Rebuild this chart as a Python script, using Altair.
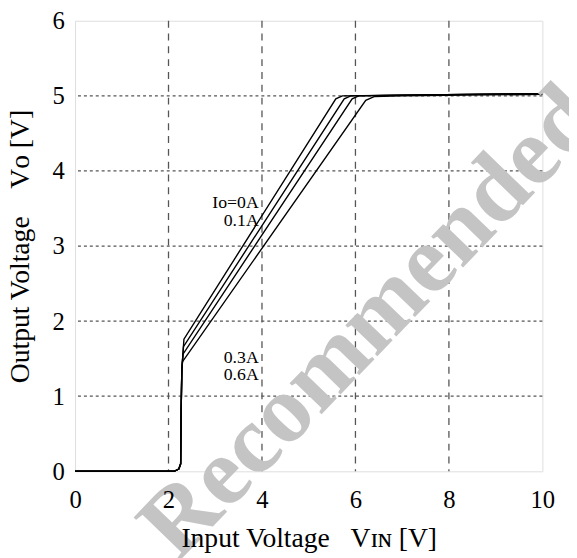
import altair as alt
import pandas as pd

# ---- data ----
curve_names = ["0A", "0.1A", "0.3A", "0.6A"]
x_0A = [0, 2.12, 2.22, 2.26, 2.27, 2.285, 2.33, 5.58, 5.72, 7.0, 10.0]
y_0A = [0, 0.0, 0.03, 0.10, 0.80, 1.35, 1.76, 4.96, 5.00, 5.01, 5.03]
x_01A = [0, 2.12, 2.22, 2.26, 2.27, 2.285, 2.32, 5.76, 5.90, 7.0, 10.0]
y_01A = [0, 0.0, 0.03, 0.10, 0.80, 1.35, 1.66, 4.96, 5.00, 5.01, 5.03]
x_03A = [0, 2.12, 2.22, 2.26, 2.27, 2.285, 2.31, 5.93, 6.07, 7.0, 10.0]
y_03A = [0, 0.0, 0.03, 0.10, 0.80, 1.35, 1.56, 4.96, 5.00, 5.01, 5.03]
x_06A = [0, 2.12, 2.22, 2.26, 2.27, 2.285, 2.30, 6.22, 6.40, 7.0, 10.0]
y_06A = [0, 0.0, 0.03, 0.10, 0.80, 1.35, 1.46, 4.94, 4.99, 5.00, 5.02]

label_texts = ["I\u1d0f=0A", "0.1A", "0.3A", "0.6A"]
label_x = [3.93, 3.93, 3.93, 3.93]
label_y = [3.57, 3.33, 1.51, 1.28]

x_ticks = [0, 2, 4, 6, 8, 10]
y_ticks = [0, 1, 2, 3, 4, 5, 6]
x_grid = [2, 4, 6, 8]
y_grid = [1, 2, 3, 4, 5]

watermark = "Recommended"
wm_x = [6.31]
wm_y = [1.98]

FONT = "Liberation Serif"

rows = []
for name, xs, ys in zip(curve_names, [x_0A, x_01A, x_03A, x_06A], [y_0A, y_01A, y_03A, y_06A]):
    for i, (a, b) in enumerate(zip(xs, ys)):
        rows.append({"curve": name, "order": i, "vin": a, "vo": b})
curves = pd.DataFrame(rows)
labels = pd.DataFrame({"t": label_texts, "x": label_x, "y": label_y})
xg = pd.DataFrame({"x": x_grid})
yg = pd.DataFrame({"y": y_grid})
wm = pd.DataFrame({"t": [watermark], "x": wm_x, "y": wm_y})

xscale = alt.Scale(domain=[0, 10], nice=False)
yscale = alt.Scale(domain=[0, 6], nice=False)
NB = "\u00a0"
xaxis = alt.Axis(values=x_ticks, format="d", title="Input Voltage" + NB * 3 + "V\u026a\u0274 [V]",
                 grid=False, domain=False, ticks=False, labelFont=FONT, labelFontSize=25,
                 labelColor="black", labelPadding=17, titleFont=FONT, titleFontSize=28,
                 titleFontWeight="normal", titleColor="black", titlePadding=12, labelFlush=False,
                 zindex=1)
yaxis = alt.Axis(values=y_ticks, format="d", title="Output Voltage" + NB * 4 + "V\u1d0f [V]",
                 grid=False, domain=False, ticks=False, labelFont=FONT, labelFontSize=25,
                 labelColor="black", labelPadding=11, titleFont=FONT, titleFontSize=28,
                 titleFontWeight="normal", titleColor="black", titlePadding=18, labelFlush=False,
                 zindex=1)

vgrid = alt.Chart(xg).mark_rule(color="#555555", strokeWidth=1.3, strokeDash=[7, 6]).encode(
    x=alt.X("x:Q", scale=xscale, axis=xaxis))
hgrid = alt.Chart(yg).mark_rule(color="#555555", strokeWidth=1.3, strokeDash=[3, 3]).encode(
    y=alt.Y("y:Q", scale=yscale, axis=yaxis))

lines = alt.Chart(curves).mark_line(color="black", strokeWidth=1.4).encode(
    x=alt.X("vin:Q", scale=xscale),
    y=alt.Y("vo:Q", scale=yscale),
    detail="curve:N",
    order="order:Q",
)

text = alt.Chart(labels).mark_text(font=FONT, fontSize=18, align="right", baseline="middle",
                                   color="black").encode(
    x=alt.X("x:Q", scale=xscale), y=alt.Y("y:Q", scale=yscale), text="t:N")

wmark = alt.Chart(wm).mark_text(font=FONT, fontSize=98, fontWeight="bold", angle=314,
                                align="center", baseline="middle", color="#c4c4c4").encode(
    x=alt.X("x:Q", scale=xscale), y=alt.Y("y:Q", scale=yscale), text="t:N")

chart = alt.layer(vgrid, hgrid, lines, text, wmark).properties(
    width=474, height=457,
    autosize=alt.AutoSizeParams(type="none"),
    padding={"left": 68, "top": 9, "right": 27, "bottom": 84},
).configure_view(stroke="#808080", strokeWidth=2).configure(background="white")

chart.save("out.html", embed_options={"renderer": "svg", "actions": False})
